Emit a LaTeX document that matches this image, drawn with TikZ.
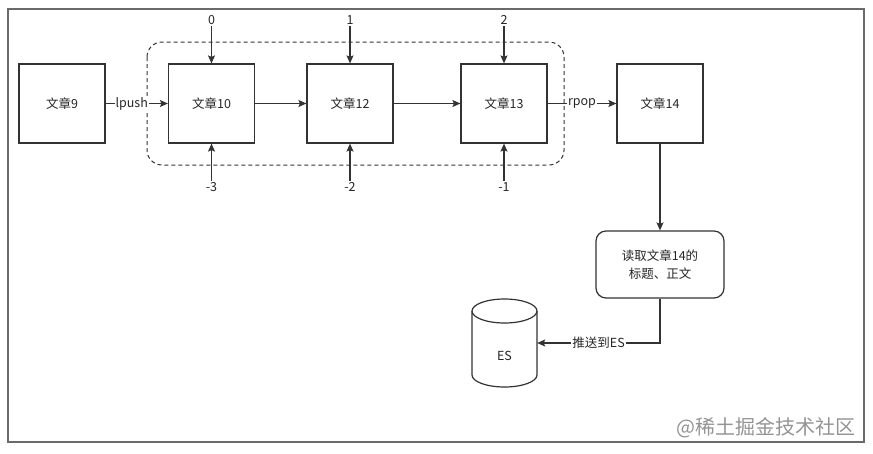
\documentclass[tikz,border=0pt]{standalone}
\usepackage{fontspec}
\setmainfont{Noto Sans CJK SC}
\usetikzlibrary{arrows.meta}
\definecolor{ln}{HTML}{333333}
\definecolor{fr}{HTML}{6A6A6A}
\begin{document}
\begin{tikzpicture}[x=1pt,y=-1pt,
  font=\fontsize{12.5}{15}\selectfont,
  box/.style={draw=ln,line width=1.2pt,minimum width=86pt,minimum height=79pt,inner sep=0pt,text=black!85},
  arr/.style={draw=ln,line width=1.2pt,-{Stealth[length=8pt,width=7pt,inset=1.5pt]}},
  lab/.style={fill=white,inner sep=1pt,text=black!85},
  num/.style={inner sep=1.5pt,text=black!85}]
\useasboundingbox (0,0) rectangle (873,453);
\fill[white] (0,0) rectangle (873,453);
% outer frame
\draw[fr,line width=1.2pt] (8,9) rectangle (864,442);
% dashed group
\draw[ln,line width=1pt,dash pattern=on 4pt off 3pt,rounded corners=15pt] (147,42) rectangle (564,165);
% boxes
\node[box] (b9)  at (62,103.5)  {文章9};
\node[box] (b10) at (211.5,103.5) {文章10};
\node[box] (b12) at (350,103.5) {文章12};
\node[box] (b13) at (504,103.5) {文章13};
\node[box] (b14) at (660,103.5) {文章14};
% indices
\node[num] (t0) at (211.5,20) {0};
\node[num] (t1) at (350,20) {1};
\node[num] (t2) at (504,20) {2};
\node[num] (u3) at (211.5,187) {-3};
\node[num] (u2) at (350,187) {-2};
\node[num] (u1) at (504,187) {-1};
\draw[arr] (t0) -- (b10.north);
\draw[arr] (t1) -- (b12.north);
\draw[arr] (t2) -- (b13.north);
\draw[arr] (u3) -- (b10.south);
\draw[arr] (u2) -- (b12.south);
\draw[arr] (u1) -- (b13.south);
% horizontal chain
\draw[arr] (b9) -- node[lab,pos=0.42] {lpush} (b10);
\draw[arr] (b10) -- (b12);
\draw[arr] (b12) -- (b13);
\draw[arr] (b13) -- node[lab] {rpop} (b14);
% read box
\node[draw=ln,line width=1.2pt,rounded corners=10pt,minimum width=128pt,minimum height=67pt,align=center,text=black!85,font=\fontsize{12.5}{18}\selectfont] (rd) at (660,264.5) {读取文章14的\\标题、正文};
\draw[arr] (b14) -- (rd);
% cylinder ES
\draw[ln,line width=1.2pt,fill=white] (472,311) -- (472,375) arc[start angle=180,end angle=0,x radius=32.5,y radius=12] -- (537,311);
\draw[ln,line width=1.2pt,fill=white] (504.5,311) ellipse[x radius=32.5,y radius=12];
\node[minimum width=65pt,minimum height=88pt,inner sep=0pt,text=black!85] (es) at (504.5,343) {};
\node[text=black!85] (estext) at (504.5,356) {ES};
\draw[arr] (rd.south) |- node[lab,pos=0.75] {推送到ES} (es.east);
% site mark
\node[anchor=east,text=black!42,font=\fontsize{20}{22}\selectfont,inner sep=0pt] (wm) at (856,428) {@稀土掘金技术社区};
\end{tikzpicture}
\end{document}
